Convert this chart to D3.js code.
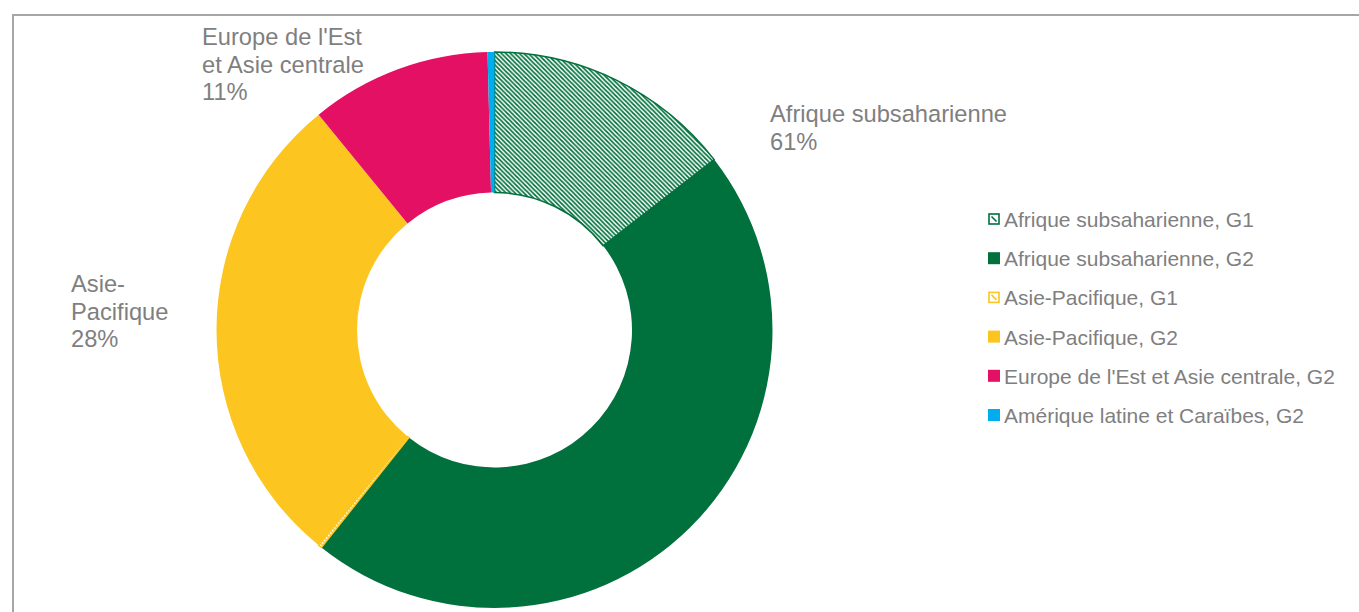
<!DOCTYPE html>
<html>
<head>
<meta charset="utf-8">
<script src="https://cdn.jsdelivr.net/npm/d3@7/dist/d3.min.js"></script>
<style>
html,body{margin:0;padding:0;background:#fff;}
svg{display:block;font-family:"Liberation Sans",Arial,sans-serif;}
</style>
</head>
<body>
<svg id="chart" width="1359" height="612"></svg>
<script>
const categories = [
  "Afrique subsaharienne, G1",
  "Afrique subsaharienne, G2",
  "Asie-Pacifique, G1",
  "Asie-Pacifique, G2",
  "Europe de l'Est et Asie centrale, G2",
  "Amérique latine et Caraïbes, G2"
];
const values = [14.5, 46.2, 0.2, 28.2, 10.5, 0.4];
const colors = ["#00703c", "#00703c", "#fcc520", "#fcc520", "#e31064", "#00aeef"];
const hatched = [true, false, true, false, false, false];
const regionLabels = [
  {lines: ["Afrique subsaharienne", "61%"], x: 770, y: 122},
  {lines: ["Asie-", "Pacifique", "28%"], x: 71, y: 292},
  {lines: ["Europe de l'Est", "et Asie centrale", "11%"], x: 202, y: 45}
];

const svg = d3.select("#chart");
const textColor = "#7f7f7f";

// frame
svg.append("path")
  .attr("d", "M13,612 V15 H1359")
  .attr("fill", "none")
  .attr("stroke", "#a6a6a6")
  .attr("stroke-width", 2);

// hatch patterns
const defs = svg.append("defs");
colors.forEach((c, i) => {
  if (!hatched[i]) return;
  const p = defs.append("pattern")
    .attr("id", "hatch" + i)
    .attr("patternUnits", "userSpaceOnUse")
    .attr("width", 4.5).attr("height", 4.5);
  p.append("rect").attr("width", 4.5).attr("height", 4.5).attr("fill", "#fff");
  p.append("path")
    .attr("d", "M-1,-1 L5.5,5.5 M-1,3.5 L1,5.5 M3.5,-1 L5.5,1")
    .attr("stroke", c).attr("stroke-width", 1.7);
});

const cx = 494.5, cy = 330, R = 278, r = 137.5;
const pie = d3.pie().sort(null).value(d => d)(values);
const arc = d3.arc().innerRadius(r).outerRadius(R);

const g = svg.append("g").attr("transform", `translate(${cx},${cy})`);
g.selectAll("path.slice")
  .data(pie)
  .enter().append("path")
  .attr("class", "slice")
  .attr("d", arc)
  .attr("fill", (d, i) => hatched[i] ? `url(#hatch${i})` : colors[i])
  .attr("stroke", (d, i) => hatched[i] ? colors[i] : "none")
  .attr("stroke-width", (d, i) => hatched[i] ? 1.5 : 0);

// region labels
regionLabels.forEach(l => {
  const t = svg.append("text")
    .attr("x", l.x).attr("y", l.y)
    .attr("fill", textColor)
    .attr("font-size", 23.7);
  l.lines.forEach((line, k) => {
    t.append("tspan").attr("x", l.x).attr("dy", k === 0 ? 0 : 27.5).text(line);
  });
});

// legend
const legY = d3.scalePoint().domain(categories).range([227, 423]);
const leg = svg.append("g");
categories.forEach((c, i) => {
  const y = legY(c);
  if (hatched[i]) {
    leg.append("rect")
      .attr("x", 989).attr("y", y - 13).attr("width", 10).attr("height", 10)
      .attr("fill", "#fff").attr("stroke", colors[i]).attr("stroke-width", 1.6);
    leg.append("path")
      .attr("d", `M${991.5},${y - 10.5} L${996.5},${y - 5.5}`)
      .attr("stroke", colors[i]).attr("stroke-width", 1.6);
  } else {
    leg.append("rect")
      .attr("x", 988).attr("y", y - 14).attr("width", 12).attr("height", 12)
      .attr("fill", colors[i]);
  }
  leg.append("text")
    .attr("x", 1004).attr("y", y)
    .attr("fill", textColor)
    .attr("font-size", 21)
    .text(c);
});
</script>
</body>
</html>
